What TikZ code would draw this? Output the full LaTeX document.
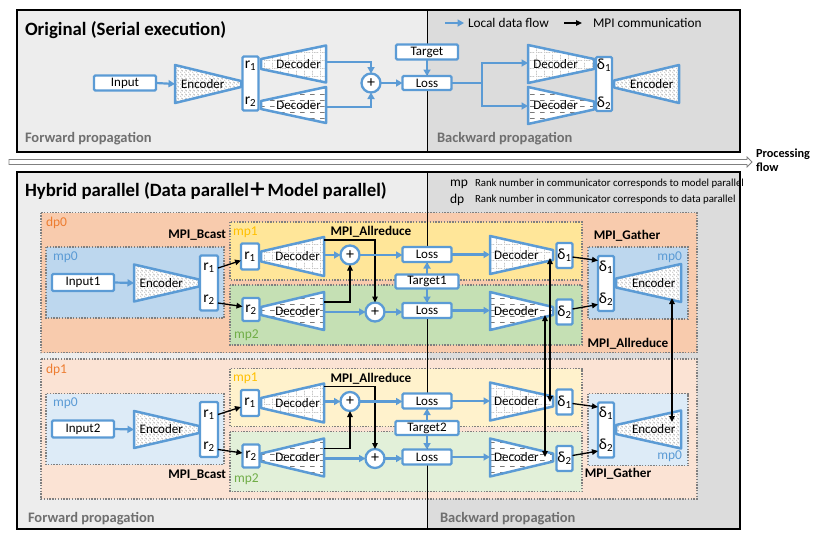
\documentclass[tikz,border=0pt]{standalone}
\usepackage{fontspec}
\setmainfont{Carlito}
\newfontfamily\cjkf{Noto Sans CJK SC}
\usetikzlibrary{arrows.meta,patterns,calc}

\definecolor{mblue}{HTML}{5B9BD5}
\definecolor{patgray}{HTML}{7A7A7A}
\definecolor{dotgray}{HTML}{7F7F7F}
\definecolor{propgray}{HTML}{6F6F6F}
\definecolor{lgray}{HTML}{EDEDED}
\definecolor{dgray}{HTML}{DCDCDC}
\definecolor{dpA}{HTML}{F8CBAD}
\definecolor{dpB}{HTML}{FBE3D4}
\definecolor{mpzA}{HTML}{BDD7EE}
\definecolor{mpzB}{HTML}{DDEBF7}
\definecolor{mpaA}{HTML}{FFE699}
\definecolor{mpaB}{HTML}{FFF2CC}
\definecolor{mpbA}{HTML}{C5E0B4}
\definecolor{mpbB}{HTML}{E2F0D9}
\definecolor{orng}{HTML}{ED7D31}
\definecolor{yelw}{HTML}{FFC000}
\definecolor{gren}{HTML}{70AD47}

\pgfdeclarepatternformonly{edots}{\pgfpointorigin}{\pgfqpoint{4pt}{4pt}}{\pgfqpoint{4pt}{4pt}}{%
  \pgfpathcircle{\pgfqpoint{1pt}{1pt}}{0.55pt}%
  \pgfpathcircle{\pgfqpoint{3pt}{2.5pt}}{0.55pt}%
  \pgfpathcircle{\pgfqpoint{2pt}{3.6pt}}{0.5pt}%
  \pgfusepath{fill}}
\pgfdeclarepatternformonly{dgrid}{\pgfpointorigin}{\pgfqpoint{8pt}{8pt}}{\pgfqpoint{8pt}{8pt}}{%
  \pgfpathrectangle{\pgfqpoint{0pt}{0pt}}{\pgfqpoint{0.8pt}{0.8pt}}%
  \pgfpathrectangle{\pgfqpoint{2pt}{0pt}}{\pgfqpoint{0.8pt}{0.8pt}}%
  \pgfpathrectangle{\pgfqpoint{4pt}{0pt}}{\pgfqpoint{0.8pt}{0.8pt}}%
  \pgfpathrectangle{\pgfqpoint{6pt}{0pt}}{\pgfqpoint{0.8pt}{0.8pt}}%
  \pgfpathrectangle{\pgfqpoint{0pt}{2pt}}{\pgfqpoint{0.8pt}{0.8pt}}%
  \pgfpathrectangle{\pgfqpoint{0pt}{4pt}}{\pgfqpoint{0.8pt}{0.8pt}}%
  \pgfpathrectangle{\pgfqpoint{0pt}{6pt}}{\pgfqpoint{0.8pt}{0.8pt}}%
  \pgfusepath{fill}}
\pgfdeclarepatternformonly{dhl}{\pgfpointorigin}{\pgfqpoint{10pt}{6pt}}{\pgfqpoint{10pt}{6pt}}{%
  \pgfpathrectangle{\pgfqpoint{0pt}{0pt}}{\pgfqpoint{5pt}{0.9pt}}%
  \pgfusepath{fill}}

% #1 name, #2 x wide, #3 x narrow, #4 y centre, #5 half height wide, #6 half height narrow, #7 pattern, #8 label
\newcommand\trapz[8]{%
  \draw[trap,pattern=#7] (#2,#4-#5) -- (#3,#4-#6) -- (#3,#4+#6) -- (#2,#4+#5) -- cycle;
  \node[txt] (#1) at ({#2+0.42*(#3-#2)},#4) {#8};
  \coordinate (#1-a) at (#2,#4);
  \coordinate (#1-b) at (#3,#4);
}

\newcommand\dpback[4]{%
  \draw[dpbox,fill=#1] (41,212.5) rectangle (697,352.5);
  \draw[dpbox,fill=#2] (46,247) rectangle (224,318);
  \draw[dpbox,fill=#3] (230,222) rectangle (582,280);
  \draw[dpbox,fill=#4] (230,285) rectangle (582,345);
  \draw[dpbox,fill=#2] (588,247) rectangle (688,319);
}

\newcommand\dpfront[2]{%
  \node[box,minimum width=62,minimum height=17] (inp) at (83,282.5) {#1};
  \trapz{enc}{134}{199}{283}{18.5}{3.5}{edots}{Encoder}
  \node[box,minimum width=18,minimum height=55] (rb) at (209,283) {};
  \node[rtxt] (rb1) at (209,268) {r\textsubscript{1}};
  \node[rtxt] (rb2) at (209,300) {r\textsubscript{2}};
  \node[rbox,minimum width=18,minimum height=26] (r1) at (250,256.5) {r\textsubscript{1}};
  \node[rbox,minimum width=17,minimum height=23] (r2) at (251,309.5) {r\textsubscript{2}};
  \trapz{fd1}{324}{261}{256.5}{19.5}{5}{dgrid}{Decoder}
  \trapz{fd2}{324}{261}{311}{19}{4}{dhl}{Decoder}
  \node[plus] (p1) at (350,255) {+};
  \node[plus] (p2) at (375,312) {+};
  \node[box,minimum width=49,minimum height=15] (l1) at (427,254.5) {Loss};
  \node[box,minimum width=63,minimum height=14] (tg) at (427,281.5) {#2};
  \node[box,minimum width=49,minimum height=15] (l2) at (427,310.5) {Loss};
  \trapz{bd1}{490}{553}{255}{19}{5}{dgrid}{Decoder}
  \trapz{bd2}{490}{553}{311}{19}{4}{dhl}{Decoder}
  \node[rbox,minimum width=16,minimum height=25] (d1) at (564.5,255.5) {δ\textsubscript{1}};
  \node[rbox,minimum width=16,minimum height=25] (d2) at (564.5,312) {δ\textsubscript{2}};
  \node[box,minimum width=16,minimum height=55] (db) at (606,283.5) {};
  \node[rtxt] (db1) at (606,267) {δ\textsubscript{1}};
  \node[rtxt] (db2) at (606,299) {δ\textsubscript{2}};
  \trapz{ge}{681}{616}{283}{19}{4.5}{edots}{Encoder}
  % connectors
  \draw[bl] (inp.east) -- (enc-a);
  \draw[bk] (rb.east |- rb1) -- ($(r1.west)+(0,4)$);
  \draw[bk] ($(rb.east |- rb2)+(0,3)$) -- ($(r2.west)+(0,-3)$);
  \draw[bl] (fd1-a |- p1) -- (p1.west);
  \draw[bl] (fd2-a |- p2) -- (p2.west);
  \draw[bk] ($(fd1-a)+(0,-16.5)$) -| (p2.north);
  \draw[bk] ($(fd2-a)+(0,-9)$) -| (p1.south);
  \draw[bl] (p1.east) -- (l1.west |- p1);
  \draw[bl] (p2.east) -- (l2.west |- p2);
  \draw[bl] (tg.north) -- (l1.south);
  \draw[bl] (tg.south) -- (l2.north);
  \draw[bl] (l1.east) -- (bd1-a |- l1);
  \draw[bl] (l2.east) -- (bd2-a |- l2);
  \draw[bk] ($(d1.east)+(0,1.5)$) -- ($(db.west)+(0,-23)$);
  \draw[bk] ($(d2.east)+(0,-3)$) -- ($(db.west)+(0,21)$);
}

\tikzset{
  every node/.style={inner sep=0pt, outer sep=0pt},
  txt/.style={font=\fontsize{13}{14}\selectfont},
  box/.style={draw=mblue, line width=2.3pt, fill=white, rounded corners=1.2pt, font=\fontsize{13}{14}\selectfont},
  rbox/.style={box, font=\fontsize{15.5}{16}\selectfont},
  rtxt/.style={font=\fontsize{15.5}{16}\selectfont},
  plus/.style={circle, draw=mblue, line width=2.3pt, fill=white, minimum size=19pt, font=\fontsize{16}{16}\selectfont},
  trap/.style={draw=mblue, line width=2.5pt, line join=round, preaction={fill=white}, pattern color=patgray},
  bl/.style={draw=mblue, line width=2.2pt, -{Triangle[length=6.5pt,width=7pt]}},
  blline/.style={draw=mblue, line width=2.2pt},
  bk/.style={draw=black, line width=1.3pt, -{Triangle[length=6pt,width=5.5pt]}},
  bkdd/.style={draw=black, line width=1.3pt, {Triangle[length=6pt,width=5.5pt]}-{Triangle[length=6pt,width=5.5pt]}},
  dpbox/.style={draw=dotgray, line width=1.4pt, dash pattern=on 1.4pt off 1.4pt},
  mlab/.style={font=\fontsize{13.2}{14}\selectfont\bfseries},
  grp/.style={font=\fontsize{13.5}{14}\selectfont, anchor=west},
  prop/.style={font=\fontsize{14.5}{16}\selectfont\bfseries, text=propgray, anchor=base west},
  ttl/.style={font=\fontsize{18.8}{20}\selectfont\bfseries, anchor=base west},
  leg/.style={font=\fontsize{13.3}{14}\selectfont, anchor=west},
}

\begin{document}
\begin{tikzpicture}[x=1pt,y=-1pt]
\useasboundingbox (0,0) rectangle (814,533);
\fill[white] (0,0) rectangle (814,533);

% ===== Top: Original =====
\fill[lgray] (17,10) rectangle (427,152);
\fill[dgray] (427,10) rectangle (740,152);
\draw[line width=1pt] (427,10) -- (427,152);
\draw[line width=1.2pt] (17,10) rectangle (740,152);
\node[ttl] (t1) at (25,35.5) {Original (Serial execution)};
\node[prop] (fp1) at (25,142) {Forward propagation};
\node[prop] (bp1) at (437,142) {Backward propagation};
% legend
\coordinate (lg1) at (445,23);
\node[leg] (lgt1) at (468,23) {Local data flow};
\draw[bl] (lg1) -- ($(lgt1.west)+(-4,0)$);
\coordinate (lg2) at (564,23);
\node[leg] (lgt2) at (593,23) {MPI communication};
\draw[bk] (lg2) -- ($(lgt2.west)+(-11,0)$);

\node[box,minimum width=62,minimum height=15] (tinp) at (125,83) {Input};
\trapz{tenc}{175}{241}{84}{19}{3}{edots}{Encoder}
\node[box,minimum width=16,minimum height=54] (trb) at (250.5,83.5) {};
\node[rtxt] (trb1) at (250.5,66) {r\textsubscript{1}};
\node[rtxt] (trb2) at (250.5,102) {r\textsubscript{2}};
\trapz{tfd1}{326}{261}{64}{18.5}{5}{dgrid}{Decoder}
\trapz{tfd2}{326}{261}{105}{18}{4}{dhl}{Decoder}
\node[plus] (tp) at (371,83) {+};
\node[box,minimum width=62,minimum height=15] (ttg) at (427,52) {Target};
\node[box,minimum width=49,minimum height=14] (tl) at (427,83) {Loss};
\trapz{tbd1}{528}{594}{64}{19}{5}{dgrid}{Decoder}
\trapz{tbd2}{528}{594}{105.5}{18.5}{4}{dhl}{Decoder}
\node[box,minimum width=16,minimum height=54] (tdb) at (604,84) {};
\node[rtxt] (tdb1) at (604,65) {δ\textsubscript{1}};
\node[rtxt] (tdb2) at (604,103) {δ\textsubscript{2}};
\trapz{tge}{679}{614}{84}{19}{3.5}{edots}{Encoder}
\draw[bl] (tinp.east) -- (tenc-a);
\draw[bl] ($(tfd1-a)+(0,-2)$) -| (tp.north);
\draw[bl] ($(tfd2-a)+(0,2)$) -| (tp.south);
\draw[bl] (tp.east) -- (tl.west);
\draw[bl] (ttg.south) -- (tl.north);
\coordinate (tbr) at (482,83);
\draw[blline] (tl.east) -- (tbr);
\draw[bl] (tbr) |- ($(tbd1-a)+(0,-1)$);
\draw[bl] (tbr) |- ($(tbd2-a)+(0,0.5)$);

% ===== Processing flow arrow =====
\draw[draw=gray, fill=white, line width=0.8pt] (9,159.5) -- (747,159.5) -- (747,157) -- (752,162) -- (747,167) -- (747,164.5) -- (9,164.5) -- cycle;
\node[font=\fontsize{12.3}{14}\selectfont\bfseries, anchor=base west] (pf1) at (756,157.5) {Processing};
\node[font=\fontsize{12.3}{14}\selectfont\bfseries, anchor=base west] (pf2) at (756,171.5) {flow};

% ===== Bottom: Hybrid =====
\fill[lgray] (17,172) rectangle (427,529);
\fill[dgray] (427,172) rectangle (740,529);
\draw[line width=1.2pt] (17,172) rectangle (740,529);
\node[ttl] (t2) at (25,196) {Hybrid parallel (Data parallel{\cjkf ＋}Model parallel)};
\node[prop] (fp2) at (28,522) {Forward propagation};
\node[prop] (bp2) at (440,522) {Backward propagation};
\node[font=\fontsize{13.5}{14}\selectfont, anchor=west] (lmp) at (450,184) {mp};
\node[font=\fontsize{10.8}{12}\selectfont, anchor=west] (lmpt) at (475,184) {Rank number in communicator corresponds to model parallel};
\node[font=\fontsize{13.5}{14}\selectfont, anchor=west] (ldp) at (450,200) {dp};
\node[font=\fontsize{10.8}{12}\selectfont, anchor=west] (ldpt) at (475,200) {Rank number in communicator corresponds to data parallel};

\begin{scope}[name prefix=a-]
  \dpback{dpA}{mpzA}{mpaA}{mpbA}
\end{scope}
\begin{scope}[shift={(0,146.5)},name prefix=b-]
  \dpback{dpB}{mpzB}{mpaB}{mpbB}
\end{scope}

\draw[line width=1pt] (427,172) -- (427,529);

\begin{scope}[name prefix=a-]
  \dpfront{Input1}{Target1}
  \node[grp,text=orng] (dpl) at (46,223) {dp0};
  \node[grp,text=mblue] (mp0l) at (53,257) {mp0};
  \node[grp,text=yelw] (mp1l) at (233,232) {mp1};
  \node[grp,text=gren] (mp2l) at (234,335) {mp2};
  \node[grp,text=mblue,anchor=east] (mp0g) at (682,257) {mp0};
  \node[mlab,anchor=east] (bc) at (226,235) {MPI\_Bcast};
  \node[mlab] (ar) at (371,232) {MPI\_Allreduce};
  \node[mlab] (ga) at (627,236) {MPI\_Gather};
  \node[mlab] (ar2) at (628,344) {MPI\_Allreduce};
\end{scope}
\begin{scope}[shift={(0,146.5)},name prefix=b-]
  \dpfront{Input2}{Target2}
  \node[grp,text=orng] (dpl) at (46,223) {dp1};
  \node[grp,text=mblue] (mp0l) at (53,257) {mp0};
  \node[grp,text=yelw] (mp1l) at (233,232) {mp1};
  \node[grp,text=gren] (mp2l) at (234,333) {mp2};
  \node[grp,text=mblue,anchor=east] (mp0g) at (682,310) {mp0};
  \node[mlab,anchor=east] (bc) at (226,328.5) {MPI\_Bcast};
  \node[mlab] (ar) at (371,232) {MPI\_Allreduce};
  \node[mlab] (ga) at (618,327.5) {MPI\_Gather};
\end{scope}

% MPI_Allreduce between dp0 and dp1 (backward)
\draw[bkdd] ($(a-bd1-b)+(-3,3)$) -- ($(b-bd1-b)+(-3,0.5)$);
\draw[bkdd] ($(a-bd2-b)+(-8,4)$) -- ($(b-bd2-b)+(-8,-0.5)$);
\draw[bkdd] ($(a-ge-a)+(-9,15)$) -- ($(b-ge-a)+(-9,-7.5)$);

\end{tikzpicture}
\end{document}
